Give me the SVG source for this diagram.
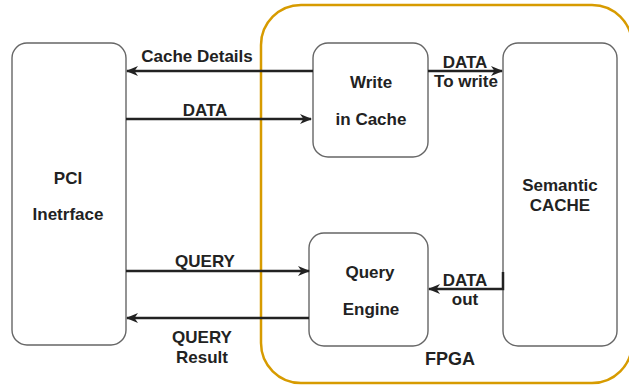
<svg xmlns="http://www.w3.org/2000/svg" width="629" height="388" viewBox="0 0 629 388">
<style>
.box{fill:#fff;stroke:#666;stroke-width:1.4}
.lbl{font-family:"Liberation Sans",Arial,sans-serif;font-weight:bold;font-size:17px;fill:#222;text-anchor:middle}
.con{fill:none;stroke:#222;stroke-width:2.5}
</style>
<defs>
<marker id="arr" viewBox="0 0 12 10" markerWidth="12" markerHeight="10" refX="11" refY="5" orient="auto" markerUnits="userSpaceOnUse">
<path d="M0,0 L12,5 L0,10 L3.5,5 z" fill="#222"/>
</marker>
</defs>
<rect width="629" height="388" fill="#fff"/>
<g id="fpga">
<rect x="261" y="5" width="371" height="378" rx="40" ry="40" fill="none" stroke="#D79B00" stroke-width="2.5"/>
<text class="lbl" x="450" y="365" style="font-size:18px">FPGA</text>
</g>
<g id="pci">
<rect class="box" x="12" y="43" width="114" height="302" rx="15" ry="15"/>
<text class="lbl" x="68" y="184">PCI</text>
<text class="lbl" x="68" y="220">Inetrface</text>
</g>
<g id="write">
<rect class="box" x="313" y="43" width="115" height="114" rx="15" ry="15"/>
<text class="lbl" x="371" y="88">Write</text>
<text class="lbl" x="371" y="125">in Cache</text>
</g>
<g id="query">
<rect class="box" x="309" y="233" width="119" height="113" rx="15" ry="15"/>
<text class="lbl" x="370" y="278">Query</text>
<text class="lbl" x="371" y="315">Engine</text>
</g>
<g id="semantic">
<rect class="box" x="503" y="43" width="114" height="303" rx="15" ry="15"/>
<text class="lbl" x="560" y="191">Semantic</text>
<text class="lbl" x="560" y="211">CACHE</text>
</g>
<g id="connectors">
<path class="con" d="M313,71 H127" marker-end="url(#arr)"/>
<text class="lbl" x="197" y="62">Cache Details</text>
<path class="con" d="M126,119 H311" marker-end="url(#arr)"/>
<text class="lbl" x="205" y="116">DATA</text>
<path class="con" d="M126,271 H309" marker-end="url(#arr)"/>
<text class="lbl" x="205" y="267">QUERY</text>
<path class="con" d="M309,318 H127" marker-end="url(#arr)"/>
<text class="lbl" x="202" y="343">QUERY</text>
<text class="lbl" x="202" y="363">Result</text>
<path class="con" d="M428,71 H502" marker-end="url(#arr)"/>
<text class="lbl" x="465" y="68">DATA</text>
<text class="lbl" x="466" y="87">To write</text>
<path class="con" d="M503,272 V289 H429" marker-end="url(#arr)"/>
<text class="lbl" x="465" y="286">DATA</text>
<text class="lbl" x="465" y="305">out</text>
</g>
</svg>
